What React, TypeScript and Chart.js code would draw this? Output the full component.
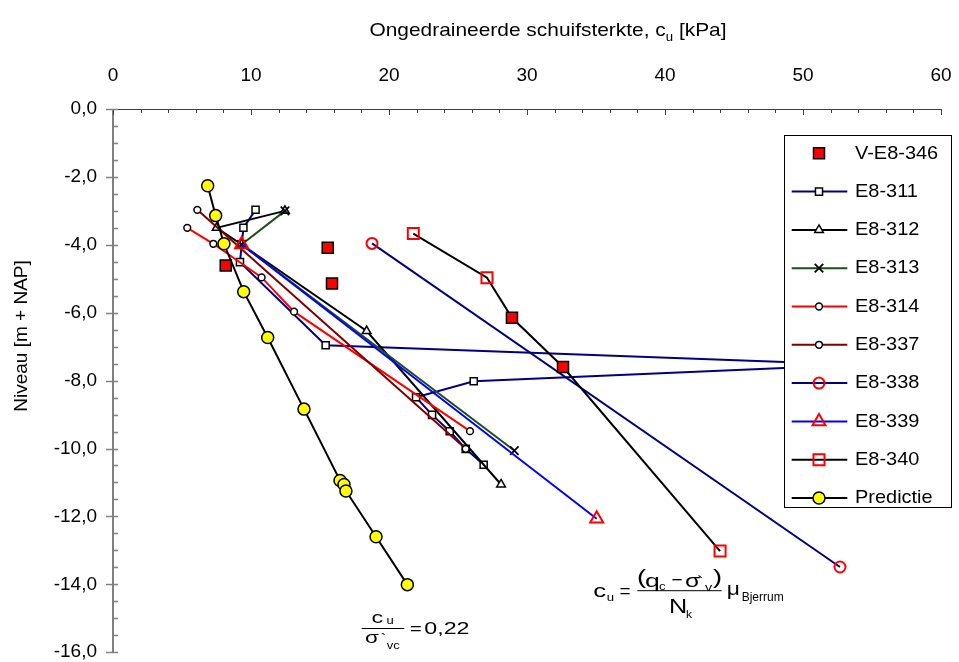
import React, { useEffect, useRef } from 'react';
import { Chart, registerables } from 'chart.js';
import { drawPoint } from 'chart.js/helpers';

Chart.register(...registerables);

const FONT = '"Liberation Sans", Arial, Helvetica, sans-serif';

// ---------- data (c_u in kPa, level in m + NAP) ----------
const vE8346Cu = [8.17, 15.56, 15.87, 28.91, 32.61];
const vE8346Level = [-4.61, -4.09, -5.14, -6.15, -7.6];

const e8311Cu = [10.33, 9.45, 9.2, 15.41, 54.1, 26.14, 21.96, 23.12, 24.4, 25.56, 26.86];
const e8311Level = [-2.97, -3.5, -4.51, -6.96, -7.53, -8.02, -8.49, -9.01, -9.49, -10.01, -10.48];

const e8312Cu = [12.46, 7.51, 9.32, 18.38, 28.12];
const e8312Level = [-3.0, -3.5, -3.99, -6.54, -11.06];

const e8313Cu = [12.46, 9.32, 29.08];
const e8313Level = [-3.0, -3.99, -10.06];

const e8314Cu = [5.38, 7.27, 10.77, 13.12, 25.87];
const e8314Level = [-3.5, -3.97, -4.96, -5.97, -9.49];

const e8337Cu = [6.11, 25.56];
const e8337Level = [-2.97, -10.01];

const e8338Cu = [18.77, 52.68];
const e8338Level = [-3.96, -13.49];

const e8339Cu = [9.32, 35.05];
const e8339Level = [-3.99, -12.07];

const e8340Cu = [21.76, 27.1, 28.91, 32.61, 43.99];
const e8340Level = [-3.67, -4.97, -6.15, -7.6, -13.02];
const e8340MarkerShown = [true, true, false, false, true];

const predictieCu = [6.86, 7.44, 8.04, 9.47, 11.21, 13.84, 16.45, 16.74, 16.88, 19.06, 21.33];
const predictieLevel = [-2.26, -3.14, -3.97, -5.38, -6.73, -8.84, -10.94, -11.06, -11.25, -12.6, -14.01];

const xMin = 0;
const xMax = 60;
const xStep = 10;
const yMin = -16;
const yMax = 0;
const yStep = 2;

const xTitleMain = 'Ongedraineerde schuifsterkte, c';
const xTitleSub = 'u';
const xTitleEnd = ' [kPa]';
const yTitle = 'Niveau [m + NAP]';

// ---------- series table ----------
type Series = {
  label: string;
  cu: number[];
  lvl: number[];
  line: string | null;
  style: string;
  radius: number;
  fill: string;
  border: string;
  bw: number;
  order: number;
  shown?: boolean[];
};

const series: Series[] = [
  { label: 'V-E8-346', cu: vE8346Cu, lvl: vE8346Level, line: null, style: 'rect', radius: 7.8, fill: '#FF0000', border: '#000000', bw: 1.5, order: 0 },
  { label: 'E8-311', cu: e8311Cu, lvl: e8311Level, line: '#000080', style: 'rect', radius: 5, fill: '#FFFFFF', border: '#000000', bw: 1.5, order: 10 },
  { label: 'E8-312', cu: e8312Cu, lvl: e8312Level, line: '#000000', style: 'triangle', radius: 5, fill: '#FFFFFF', border: '#000000', bw: 1.5, order: 9 },
  { label: 'E8-313', cu: e8313Cu, lvl: e8313Level, line: '#1E4D1E', style: 'crossRot', radius: 6, fill: '#000000', border: '#000000', bw: 1.8, order: 8 },
  { label: 'E8-314', cu: e8314Cu, lvl: e8314Level, line: '#FF0000', style: 'circle', radius: 3.4, fill: '#FFFFFF', border: '#000000', bw: 1.5, order: 7 },
  { label: 'E8-337', cu: e8337Cu, lvl: e8337Level, line: '#800000', style: 'circle', radius: 3.4, fill: '#FFFFFF', border: '#000000', bw: 1.5, order: 6 },
  { label: 'E8-338', cu: e8338Cu, lvl: e8338Level, line: '#000080', style: 'circle', radius: 5.5, fill: 'rgba(255,255,255,0)', border: '#FF0000', bw: 2, order: 5 },
  { label: 'E8-339', cu: e8339Cu, lvl: e8339Level, line: '#0000FF', style: 'triangle', radius: 7.5, fill: 'rgba(255,255,255,0)', border: '#FF0000', bw: 2, order: 4 },
  { label: 'E8-340', cu: e8340Cu, lvl: e8340Level, line: '#000000', style: 'rect', radius: 7.8, fill: 'rgba(255,255,255,0)', border: '#FF0000', bw: 2, order: 3, shown: e8340MarkerShown },
  { label: 'Predictie', cu: predictieCu, lvl: predictieLevel, line: '#000000', style: 'circle', radius: 6, fill: '#FFFF00', border: '#000000', bw: 1.5, order: 1 },
];

function fmtLevel(v: number): string {
  const n = Math.abs(v) < 1e-9 ? 0 : v;
  return n.toFixed(1).replace('.', ',');
}

function run(
  ctx: CanvasRenderingContext2D,
  s: string,
  x: number,
  y: number,
  size: number,
  sx = 1,
  align: CanvasTextAlign = 'left',
  baseline: CanvasTextBaseline = 'alphabetic'
) {
  ctx.save();
  ctx.font = `${size}px ${FONT}`;
  ctx.textAlign = align;
  ctx.textBaseline = baseline;
  ctx.fillStyle = '#000';
  ctx.translate(x, y);
  ctx.scale(sx, 1);
  ctx.fillText(s, 0, 0);
  ctx.restore();
}

function hline(ctx: CanvasRenderingContext2D, x0: number, x1: number, y: number, w = 1, c = '#000') {
  ctx.save();
  ctx.strokeStyle = c;
  ctx.lineWidth = w;
  ctx.beginPath();
  ctx.moveTo(x0, y);
  ctx.lineTo(x1, y);
  ctx.stroke();
  ctx.restore();
}

const decorPlugin = {
  id: 'decor',
  afterDraw(chart: any) {
    const ctx: CanvasRenderingContext2D = chart.ctx;
    const xs = chart.scales.x;
    const ys = chart.scales.y;
    const { left, top, right, bottom } = chart.chartArea;
    ctx.save();

    // axis lines
    ctx.strokeStyle = '#808080';
    ctx.lineWidth = 2;
    ctx.beginPath();
    ctx.moveTo(left, top);
    ctx.lineTo(left, bottom);
    ctx.stroke();
    ctx.strokeStyle = '#404040';
    ctx.lineWidth = 1;
    ctx.beginPath();
    ctx.moveTo(left - 7, Math.round(top) + 0.5);
    ctx.lineTo(right, Math.round(top) + 0.5);
    ctx.stroke();

    // x ticks (major every 10, minor every 2), pointing into the plot
    ctx.strokeStyle = '#404040';
    ctx.lineWidth = 1;
    for (let v = xMin; v <= xMax + 1e-9; v += 2) {
      const px = Math.round(xs.getPixelForValue(v)) + 0.5;
      const len = Math.abs(v % xStep) < 1e-9 ? 6 : 4;
      ctx.beginPath();
      ctx.moveTo(px, top);
      ctx.lineTo(px, top + len);
      ctx.stroke();
    }
    // y ticks (major every 2 crossing, minor every 0.5 inside)
    ctx.strokeStyle = '#808080';
    ctx.lineWidth = 1.5;
    for (let v = yMax; v >= yMin - 1e-9; v -= 0.5) {
      const py = Math.round(ys.getPixelForValue(v)) + 0.5;
      const major = Math.abs(v % yStep) < 1e-9;
      ctx.beginPath();
      ctx.moveTo(major ? left - 7 : left, py);
      ctx.lineTo(left + 5, py);
      ctx.stroke();
    }

    // x title with subscript
    {
      const size = 19;
      const sx = 1.1;
      ctx.font = `${size}px ${FONT}`;
      const w1 = ctx.measureText(xTitleMain).width * sx;
      const w3 = ctx.measureText(xTitleEnd).width * sx;
      ctx.font = `${12}px ${FONT}`;
      const w2 = ctx.measureText(xTitleSub).width * sx;
      const total = w1 + w2 + w3;
      const cx = 548;
      const base = 36;
      let x = cx - total / 2;
      run(ctx, xTitleMain, x, base, size, sx);
      x += w1;
      run(ctx, xTitleSub, x, base + 5, 12, sx);
      x += w2;
      run(ctx, xTitleEnd, x, base, size, sx);
    }

    // y title (rotated)
    ctx.save();
    ctx.translate(22, 336);
    ctx.rotate(-Math.PI / 2);
    ctx.font = `19px ${FONT}`;
    ctx.fillStyle = '#000';
    ctx.textAlign = 'center';
    ctx.textBaseline = 'middle';
    ctx.fillText(yTitle, 0, 0);
    ctx.restore();

    // legend
    const L = { x0: 784.5, y0: 135.5, x1: 951.5, y1: 507.5, rowY0: 153.3, rowDy: 38.3, lx0: 791.7, lx1: 847.3, mx: 819, tx: 855 };
    ctx.fillStyle = '#FFFFFF';
    ctx.fillRect(L.x0, L.y0, L.x1 - L.x0, L.y1 - L.y0);
    ctx.strokeStyle = '#000000';
    ctx.lineWidth = 1;
    ctx.strokeRect(L.x0, L.y0, L.x1 - L.x0, L.y1 - L.y0);
    series.forEach((s, i) => {
      const y = L.rowY0 + i * L.rowDy;
      if (s.line) {
        hline(ctx, L.lx0, L.lx1, y, 2, s.line);
      }
      ctx.save();
      ctx.fillStyle = s.fill;
      ctx.strokeStyle = s.border;
      ctx.lineWidth = s.bw;
      drawPoint(ctx, { pointStyle: s.style, rotation: 0, radius: s.radius, borderWidth: s.bw } as any, L.mx, y);
      ctx.restore();
      run(ctx, s.label, L.tx, y, 19, 1.05, 'left', 'middle');
    });

    // formula: c_u / sigma'_vc = 0,22
    run(ctx, 'c', 371.5, 623.3, 16, 1.45);
    run(ctx, 'u', 386.5, 624, 10, 1.3);
    hline(ctx, 361.7, 404.3, 628.5, 1);
    run(ctx, '\u03c3', 365, 642.7, 16, 1.4);
    run(ctx, '`', 380.5, 644, 15, 1.2);
    run(ctx, 'vc', 386.7, 648.5, 10, 1.3);
    run(ctx, '=', 410, 633.8, 16, 1.25);
    run(ctx, '0,22', 424.3, 634.3, 16, 1.45);

    // formula: c_u = (q_c - sigma'_v)/N_k mu_Bjerrum
    run(ctx, 'c', 593.3, 596.7, 19, 1.35);
    run(ctx, 'u', 606.7, 600.5, 11, 1.2);
    run(ctx, '=', 619.5, 596.6, 19, 1.0);
    hline(ctx, 637.3, 721.7, 590.7, 1);
    run(ctx, '(', 637, 583.8, 21, 1.3);
    run(ctx, 'q', 645, 586.7, 19, 1.4);
    run(ctx, 'c', 659, 589.5, 11, 1.2);
    run(ctx, '\u2212', 671.5, 585.8, 19, 1.0);
    run(ctx, '\u03c3', 685, 586.7, 19, 1.3);
    run(ctx, '`', 697, 588, 16, 1.2);
    run(ctx, 'v', 705, 590.5, 11, 1.3);
    run(ctx, ')', 713, 583.8, 21, 1.3);
    run(ctx, 'N', 669, 613, 21, 1.2);
    run(ctx, 'k', 686, 617.5, 11, 1.1);
    run(ctx, '\u03bc', 726.7, 595, 19, 1.2);
    run(ctx, 'Bjerrum', 741.7, 601, 12, 1.0);

    ctx.restore();
  },
};

export default function App() {
  const canvasRef = useRef<HTMLCanvasElement | null>(null);

  useEffect(() => {
    const canvas = canvasRef.current;
    if (!canvas) return;

    const datasets = series.map((s) => {
      const pts = s.cu.map((c, i) => ({ x: c, y: s.lvl[i] }));
      const radii = s.shown ? s.shown.map((v) => (v ? s.radius : 0)) : s.radius;
      return {
        label: s.label,
        data: pts,
        showLine: !!s.line,
        borderColor: s.line || s.border,
        borderWidth: 2,
        tension: 0,
        pointStyle: s.style,
        pointRadius: radii,
        pointHoverRadius: radii,
        pointBackgroundColor: s.fill,
        pointBorderColor: s.border,
        pointBorderWidth: s.bw,
        order: s.order,
        clip: false,
      };
    });

    const chart = new Chart(canvas, {
      type: 'scatter',
      data: { datasets: datasets as any },
      options: {
        animation: false,
        responsive: false,
        maintainAspectRatio: false,
        events: [],
        layout: { padding: { left: 0, top: 0, right: 18, bottom: 8 } },
        plugins: { legend: { display: false }, tooltip: { enabled: false }, title: { display: false } },
        scales: {
          x: {
            type: 'linear',
            position: 'top',
            min: xMin,
            max: xMax,
            grid: { display: false },
            border: { display: false },
            ticks: {
              stepSize: xStep,
              color: '#000',
              font: { family: FONT, size: 19 },
              padding: 14,
              maxRotation: 0,
              autoSkip: false,
            },
            afterFit: (s: any) => {
              s.height = 109;
              s.paddingLeft = 0;
              s.paddingRight = 0;
            },
          },
          y: {
            type: 'linear',
            position: 'left',
            min: yMin,
            max: yMax,
            grid: { display: false },
            border: { display: false },
            ticks: {
              stepSize: yStep,
              color: '#000',
              font: { family: FONT, size: 19 },
              padding: 8,
              autoSkip: false,
              callback: (v: any) => fmtLevel(Number(v)),
            },
            afterFit: (s: any) => {
              s.width = 113;
              s.paddingTop = 0;
              s.paddingBottom = 0;
            },
          },
        },
      } as any,
      plugins: [decorPlugin],
    });

    return () => {
      chart.destroy();
    };
  }, []);

  return (
    <div style={{ position: 'absolute', left: 0, top: 0, width: 959, height: 662, background: '#fff' }}>
      <canvas ref={canvasRef} width={959} height={662} style={{ display: 'block' }} />
    </div>
  );
}
